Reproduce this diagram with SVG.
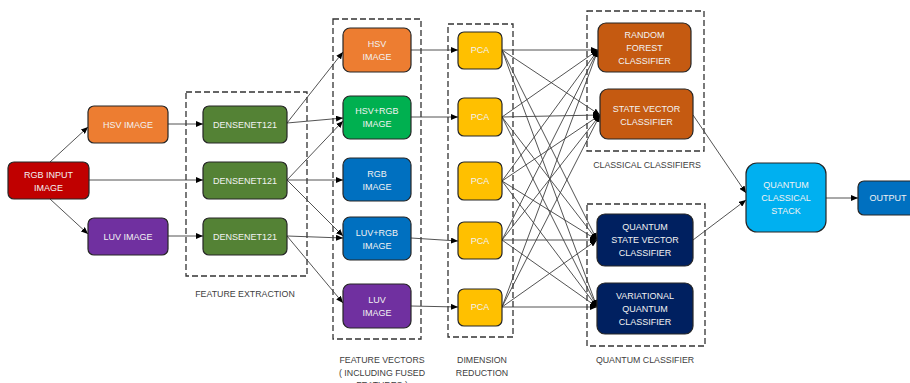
<svg xmlns="http://www.w3.org/2000/svg" width="910" height="383" viewBox="0 0 910 383">
<style>
.n{stroke:#262626;stroke-width:1.2}
.t{font-family:"Liberation Sans",Arial,sans-serif;font-size:9px;fill:#F2F2F2;text-anchor:middle}
.l{font-family:"Liberation Sans",Arial,sans-serif;font-size:8.8px;fill:#404040;text-anchor:middle}
.d{fill:none;stroke:#333;stroke-width:1.3;stroke-dasharray:6,3}
.c line{stroke:#404040;stroke-width:0.9;marker-end:url(#a)}
</style>
<defs>
<marker id="a" markerWidth="7" markerHeight="6" refX="7" refY="3" orient="auto" markerUnits="userSpaceOnUse"><path d="M0,0 L7,3 L0,6z" fill="#000"/></marker>
</defs>
<rect fill="#fff" width="910" height="383"/>
<g id="groups">
<rect class="d" x="186" y="92" width="121" height="184"/>
<rect class="d" x="333" y="19" width="88" height="320"/>
<rect class="d" x="448" y="24" width="65" height="313"/>
<rect class="d" x="587" y="11" width="117" height="140"/>
<rect class="d" x="587" y="204" width="118" height="142"/>
<text class="l" x="245" y="297">FEATURE EXTRACTION</text>
<text class="l" x="382" y="363">FEATURE VECTORS</text>
<text class="l" x="382" y="376">( INCLUDING FUSED</text>
<text class="l" x="382" y="387.5">FEATURES )</text>
<text class="l" x="482" y="363">DIMENSION</text>
<text class="l" x="482" y="376">REDUCTION</text>
<text class="l" x="647" y="168">CLASSICAL CLASSIFIERS</text>
<text class="l" x="645" y="363">QUANTUM CLASSIFIER</text>
</g>
<g class="c" id="connectors">
<line x1="50" y1="162" x2="88" y2="127"/>
<line x1="89" y1="180" x2="203" y2="180"/>
<line x1="50" y1="199" x2="88" y2="234"/>
<line x1="168" y1="124" x2="203" y2="124"/>
<line x1="168" y1="236" x2="203" y2="236"/>
<line x1="287" y1="123" x2="343" y2="52"/>
<line x1="287" y1="123" x2="343" y2="118"/>
<line x1="287" y1="180" x2="343" y2="121"/>
<line x1="287" y1="180" x2="343" y2="180"/>
<line x1="287" y1="180" x2="343" y2="236"/>
<line x1="287" y1="236" x2="343" y2="238"/>
<line x1="287" y1="236" x2="343" y2="303"/>
<line x1="411" y1="50" x2="458" y2="50"/>
<line x1="411" y1="117" x2="458" y2="117"/>
<line x1="411" y1="238" x2="458" y2="241"/>
<line x1="411" y1="306" x2="458" y2="307"/>
<line x1="502" y1="50" x2="598" y2="50"/>
<line x1="502" y1="50" x2="600" y2="115"/>
<line x1="502" y1="50" x2="597" y2="240"/>
<line x1="502" y1="50" x2="597" y2="307"/>
<line x1="502" y1="117" x2="598" y2="50"/>
<line x1="502" y1="117" x2="600" y2="115"/>
<line x1="502" y1="117" x2="597" y2="240"/>
<line x1="502" y1="117" x2="597" y2="307"/>
<line x1="502" y1="181" x2="598" y2="50"/>
<line x1="502" y1="181" x2="600" y2="115"/>
<line x1="502" y1="181" x2="597" y2="240"/>
<line x1="502" y1="181" x2="597" y2="307"/>
<line x1="502" y1="240" x2="598" y2="50"/>
<line x1="502" y1="240" x2="600" y2="115"/>
<line x1="502" y1="240" x2="597" y2="240"/>
<line x1="502" y1="240" x2="597" y2="307"/>
<line x1="502" y1="307" x2="598" y2="50"/>
<line x1="502" y1="307" x2="600" y2="115"/>
<line x1="502" y1="307" x2="597" y2="240"/>
<line x1="502" y1="307" x2="597" y2="307"/>
<line x1="693" y1="115" x2="746" y2="193"/>
<line x1="693" y1="240" x2="746" y2="200"/>
<line x1="826" y1="198" x2="858" y2="198"/>
</g>
<g id="rgb"><rect class="n" x="8" y="162" width="81" height="37" rx="6" fill="#C00000"/><text class="t" x="48.5" y="178">RGB INPUT</text><text class="t" x="48.5" y="191">IMAGE</text></g>
<g id="hsv"><rect class="n" x="88" y="106" width="80" height="37" rx="6" fill="#ED7D31"/><text class="t" x="128" y="128">HSV IMAGE</text></g>
<g id="luv"><rect class="n" x="88" y="218" width="80" height="37" rx="6" fill="#7030A0"/><text class="t" x="128" y="240">LUV IMAGE</text></g>
<g id="dense1"><rect class="n" x="203" y="106" width="84" height="37" rx="6" fill="#548235"/><text class="t" x="245" y="128">DENSENET121</text></g>
<g id="dense2"><rect class="n" x="203" y="162" width="84" height="37" rx="6" fill="#548235"/><text class="t" x="245" y="184">DENSENET121</text></g>
<g id="dense3"><rect class="n" x="203" y="218" width="84" height="37" rx="6" fill="#548235"/><text class="t" x="245" y="240">DENSENET121</text></g>
<g id="fv_hsv"><rect class="n" x="343" y="28" width="68" height="44" rx="7" fill="#ED7D31"/><text class="t" x="377" y="47">HSV</text><text class="t" x="377" y="60">IMAGE</text></g>
<g id="fv_hsvrgb"><rect class="n" x="343" y="96" width="68" height="43" rx="7" fill="#00B050"/><text class="t" x="377" y="114">HSV+RGB</text><text class="t" x="377" y="127">IMAGE</text></g>
<g id="fv_rgb"><rect class="n" x="343" y="158" width="68" height="43" rx="7" fill="#0070C0"/><text class="t" x="377" y="177">RGB</text><text class="t" x="377" y="190">IMAGE</text></g>
<g id="fv_luvrgb"><rect class="n" x="343" y="217" width="68" height="43" rx="7" fill="#0070C0"/><text class="t" x="377" y="236">LUV+RGB</text><text class="t" x="377" y="249">IMAGE</text></g>
<g id="fv_luv"><rect class="n" x="343" y="284" width="68" height="44" rx="7" fill="#7030A0"/><text class="t" x="377" y="303">LUV</text><text class="t" x="377" y="316">IMAGE</text></g>
<g id="pca1"><rect class="n" x="458" y="32" width="44" height="37" rx="6" fill="#FFC000"/><text class="t" x="480" y="53">PCA</text></g>
<g id="pca2"><rect class="n" x="458" y="98" width="44" height="38" rx="6" fill="#FFC000"/><text class="t" x="480" y="120">PCA</text></g>
<g id="pca3"><rect class="n" x="458" y="162" width="44" height="38" rx="6" fill="#FFC000"/><text class="t" x="480" y="184">PCA</text></g>
<g id="pca4"><rect class="n" x="458" y="222" width="44" height="37" rx="6" fill="#FFC000"/><text class="t" x="480" y="244">PCA</text></g>
<g id="pca5"><rect class="n" x="458" y="289" width="44" height="37" rx="6" fill="#FFC000"/><text class="t" x="480" y="310">PCA</text></g>
<g id="rf"><rect class="n" x="598" y="23" width="93" height="49" rx="8" fill="#C55A11"/><text class="t" x="644.5" y="38">RANDOM</text><text class="t" x="644.5" y="51">FOREST</text><text class="t" x="644.5" y="64">CLASSIFIER</text></g>
<g id="svc"><rect class="n" x="600" y="89" width="93" height="50" rx="8" fill="#C55A11"/><text class="t" x="646.5" y="112">STATE VECTOR</text><text class="t" x="646.5" y="125">CLASSIFIER</text></g>
<g id="qsvc"><rect class="n" x="597" y="214" width="96" height="52" rx="8" fill="#002060"/><text class="t" x="645" y="230">QUANTUM</text><text class="t" x="645" y="243">STATE VECTOR</text><text class="t" x="645" y="256">CLASSIFIER</text></g>
<g id="vqc"><rect class="n" x="597" y="283" width="96" height="51" rx="8" fill="#002060"/><text class="t" x="645" y="299">VARIATIONAL</text><text class="t" x="645" y="312">QUANTUM</text><text class="t" x="645" y="325">CLASSIFIER</text></g>
<g id="stack"><rect class="n" x="746" y="163" width="80" height="69" rx="11" fill="#00B0F0"/><text class="t" x="786" y="188">QUANTUM</text><text class="t" x="786" y="201">CLASSICAL</text><text class="t" x="786" y="214">STACK</text></g>
<g id="output"><rect class="n" x="858" y="181" width="60" height="34" rx="6" fill="#0070C0"/><text class="t" x="888" y="201">OUTPUT</text></g>
</svg>
